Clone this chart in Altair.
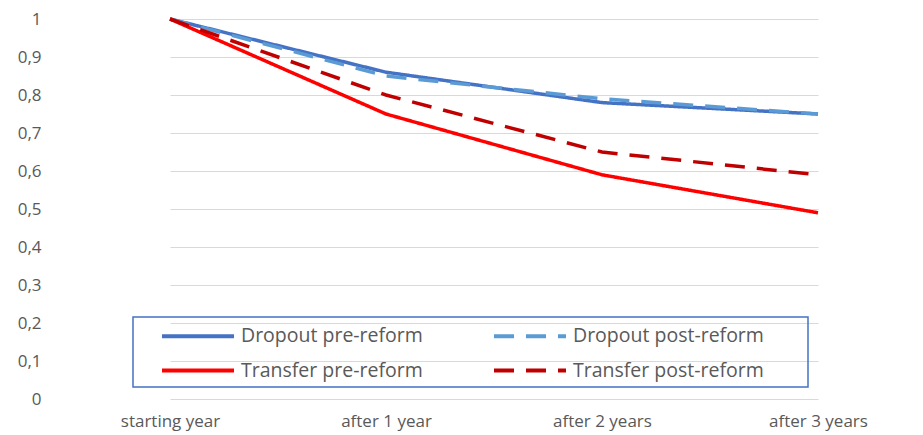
import altair as alt
import pandas as pd

periods = ["starting year", "after 1 year", "after 2 years", "after 3 years"]
series_names = ["Dropout pre-reform", "Dropout post-reform",
                "Transfer pre-reform", "Transfer post-reform"]
dropout_pre = [1.0, 0.86, 0.78, 0.75]
dropout_post = [1.0, 0.85, 0.79, 0.75]
transfer_pre = [1.0, 0.75, 0.59, 0.49]
transfer_post = [1.0, 0.80, 0.65, 0.59]
y_ticks = [0, 0.1, 0.2, 0.3, 0.4, 0.5, 0.6, 0.7, 0.8, 0.9, 1.0]

colors = ["#4472C4", "#5B9BD5", "#FF0000", "#C00000"]
dashes = [[1, 0], [20, 12], [1, 0], [20, 12]]

rows = []
for name, vals in zip(series_names, [dropout_pre, dropout_post, transfer_pre, transfer_post]):
    for p, v in zip(periods, vals):
        rows.append({"period": p, "value": v, "series": name})
df = pd.DataFrame(rows)

FONT = "Open Sans"
GREY = "#595959"

legend = alt.Legend(
    title=" ", titleOrient="right", titleFontSize=1, titlePadding=37,
    orient="none", legendX=72, legendY=298, columns=2,
    direction="horizontal",
    strokeColor="#4472C4", padding=7, symbolType="M-3.6,0L3.6,0",
    symbolSize=400, symbolStrokeWidth=4, labelFontSize=19.5, labelLimit=400,
    labelColor=GREY, labelFont=FONT, columnPadding=40, rowPadding=12.5,
    gridAlign="all", labelOffset=31, symbolOffset=46, cornerRadius=0,
)

chart = alt.Chart(df).mark_line(strokeWidth=3.5).encode(
    x=alt.X("period:N", sort=periods,
            scale=alt.Scale(type="point", range=[109, 757], padding=0),
            axis=alt.Axis(title=None, labelAngle=0, domain=False, ticks=False,
                          labelPadding=14, labelFontSize=17, labelColor=GREY,
                          labelFont=FONT, grid=False)),
    y=alt.Y("value:Q", scale=alt.Scale(domain=[0, 1], nice=False),
            axis=alt.Axis(title=None, values=y_ticks, domain=False, ticks=False,
                          labelPadding=20, labelFontSize=17, labelColor=GREY,
                          labelFont=FONT, gridColor="#d9d9d9", gridWidth=1.2,
                          labelExpr="datum.value == 0 ? '0' : datum.value == 1 ? '1' : replace(format(datum.value, '.1f'), '.', ',')")),
    color=alt.Color("series:N", sort=series_names,
                    scale=alt.Scale(domain=series_names, range=colors), legend=legend),
    strokeDash=alt.StrokeDash("series:N", sort=series_names,
                              scale=alt.Scale(domain=series_names, range=dashes), legend=legend),
).properties(
    width=854, height=380,
    autosize=alt.AutoSizeParams(type="none"),
    padding={"left": 53, "top": 11, "right": 0, "bottom": 34},
).configure_view(stroke=None).configure_legend(
    strokeColor="#4472C4", strokeWidth=1.5
)

chart.save("out.html", embed_options={"renderer": "svg", "actions": False})
